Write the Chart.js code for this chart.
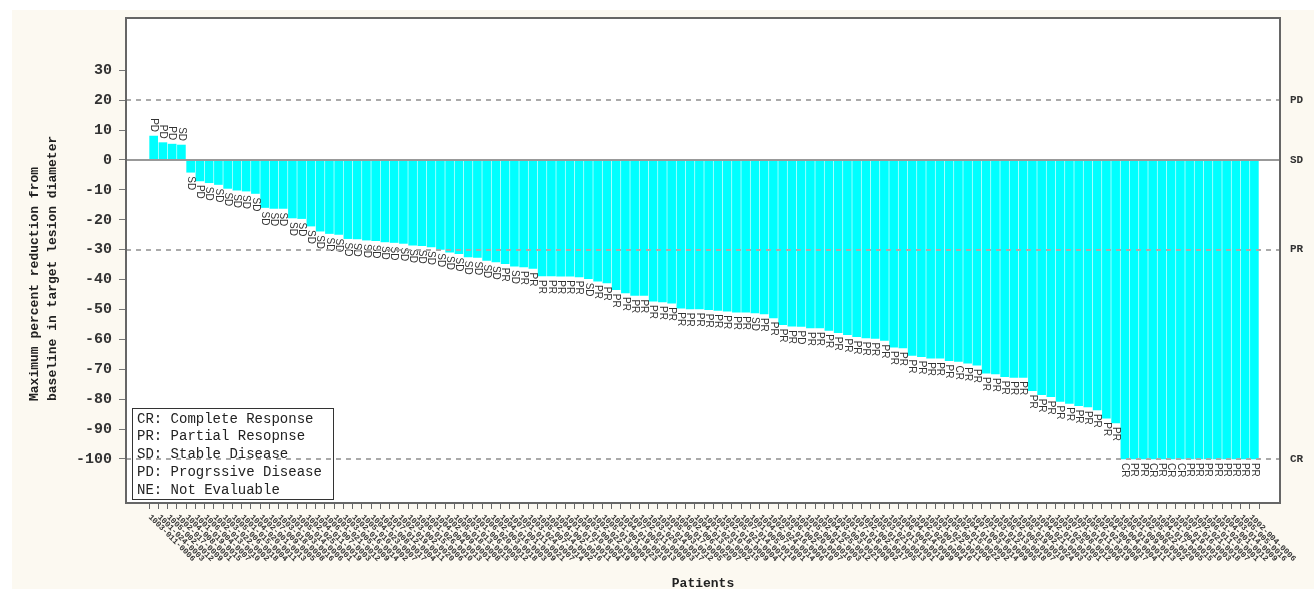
<!DOCTYPE html>
<html>
<head>
<meta charset="utf-8">
<script src="https://cdn.jsdelivr.net/npm/chart.js@4.4.1/dist/chart.umd.min.js"></script>
<style>
html,body{margin:0;padding:0;background:#fff;}
#wrap{width:1314px;height:589px;position:relative;}
canvas{display:block;}
</style>
</head>
<body>
<div id="wrap"><canvas id="c" width="1314" height="589"></canvas></div>
<script>
// ---------- DATA ----------
const patients = [
"1003-011-0006","1001-024-0003","1005-002-0012","1002-017-0009","1004-008-0001","1001-019-0015","1006-004-0007","1002-013-0010","1003-022-0002","1005-006-0018",
"1001-015-0004","1004-020-0011","1002-001-0013","1007-009-0005","1003-018-0008","1001-003-0016","1005-014-0006","1002-025-0001","1004-011-0019","1006-007-0003",
"1001-021-0012","1003-005-0009","1002-016-0014","1005-010-0002","1004-023-0007","1001-008-0017","1007-012-0004","1002-019-0011","1003-002-0020","1006-015-0006",
"1001-026-0010","1004-004-0013","1002-009-0001","1005-018-0008","1003-013-0015","1001-006-0005","1006-020-0012","1002-003-0018","1004-016-0003","1007-001-0009",
"1001-011-0021","1003-024-0007","1005-007-0014","1002-014-0002","1004-002-0016","1001-017-0011","1006-010-0004","1003-008-0019","1002-022-0006","1005-013-0001",
"1001-001-0023","1004-019-0010","1007-005-0013","1002-011-0008","1003-020-0003","1001-014-0017","1005-003-0012","1006-017-0005","1002-006-0020","1004-013-0007",
"1001-023-0002","1003-010-0015","1002-018-0009","1005-021-0004","1007-014-0011","1001-005-0018","1004-007-0001","1002-024-0014","1003-016-0006","1006-002-0010",
"1001-020-0007","1005-009-0016","1002-012-0003","1004-025-0012","1003-003-0021","1001-010-0008","1007-018-0002","1002-002-0017","1005-016-0005","1003-021-0013",
"1001-013-0001","1006-006-0019","1004-014-0009","1002-020-0004","1003-007-0016","1001-022-0011","1005-001-0006","1002-015-0022","1004-010-0002","1007-003-0014",
"1001-018-0009","1003-012-0005","1006-013-0018","1002-005-0007","1005-019-0010","1001-002-0024","1004-021-0003","1002-010-0015","1003-025-0001","1007-008-0012",
"1001-016-0006","1005-011-0019","1002-023-0008","1004-006-0017","1003-004-0004","1006-019-0011","1001-009-0013","1002-008-0002","1005-022-0020","1004-017-0005",
"1001-004-0015","1003-019-0010","1007-016-0003","1002-021-0018","1006-011-0007","1001-025-0001","1004-001-0012","1003-014-0009","1005-005-0016","1002-004-0006"
];

const changes = [
 8.0, 5.8, 5.3, 5.0, -4.1, -7.0, -7.6, -8.2, -9.5, -10.1,
 -10.4, -11.2, -15.9, -16.2, -16.2, -19.4, -19.6, -22.1, -23.8, -24.6,
 -24.9, -26.3, -26.4, -26.8, -27.0, -27.4, -27.6, -27.9, -28.5, -28.7,
 -29.1, -29.9, -30.8, -31.3, -32.4, -32.6, -33.6, -34.1, -34.7, -35.5,
 -35.8, -36.3, -38.8, -38.8, -38.9, -38.9, -39.1, -39.7, -40.5, -41.1,
 -43.4, -44.5, -45.3, -45.3, -47.2, -47.5, -47.9, -49.6, -49.8, -49.8,
 -50.1, -50.3, -50.6, -50.9, -50.9, -51.2, -51.5, -52.8, -55.1, -55.6,
 -55.7, -56.2, -56.2, -57.0, -57.8, -58.4, -59.1, -59.5, -59.7, -60.4,
 -62.6, -62.9, -65.4, -65.8, -66.3, -66.3, -67.1, -67.4, -68.0, -68.6,
 -71.3, -71.6, -72.5, -72.7, -72.7, -77.2, -78.5, -79.2, -80.8, -81.4,
 -82.2, -82.6, -83.6, -86.4, -88.0, -100, -100, -100, -100, -100,
 -100, -100, -100, -100, -100, -100, -100, -100, -100, -100
];

const responses = [
 "PD","PD","PD","SD","SD","PD","SD","SD","SD","SD",
 "SD","SD","SD","SD","SD","SD","SD","SD","SD","SD",
 "SD","SD","SD","SD","SD","SD","SD","SD","SD","SD",
 "SD","SD","SD","SD","SD","SD","SD","SD","PR","SD",
 "PR","PR","PR","PR","PR","PR","PR","SD","PR","PR",
 "PR","PR","PR","PR","PR","PR","PR","PR","PR","PR",
 "PR","PR","PR","PR","PR","SD","PR","PR","PR","PR",
 "PD","PR","PR","PR","PR","PR","PR","PR","PR","PR",
 "PR","PR","PR","PR","PR","PR","PR","CR","PR","PR",
 "PR","PR","PR","PR","PR","PR","PR","PR","PR","PR",
 "PR","PR","PR","PR","PR","CR","PR","PR","CR","PR",
 "CR","CR","PR","PR","PR","PR","PR","PR","PR","PR"
];

const yTickValues = [30, 20, 10, 0, -10, -20, -30, -40, -50, -60, -70, -80, -90, -100];
const refValues = [20, 0, -30, -100];
const refLabels = ["PD", "SD", "PR", "CR"];
const legendLines = ["CR: Complete Response", "PR: Partial Resopnse", "SD: Stable Disease", "PD: Progrssive Disease", "NE: Not Evaluable"];
const yTitleLines = ["Maximum percent reduction from", "baseline in target lesion diameter"];
const xTitle = "Patients";

// ---------- STYLE ----------
const MONO = "'Liberation Mono', 'Courier New', monospace";
const SANS = "'Liberation Sans', Arial, sans-serif";
const BAR_COLOR = "#00FFFF";

const decorPlugin = {
  id: 'decor',
  beforeDraw(chart) {
    const ctx = chart.ctx, a = chart.chartArea;
    ctx.save();
    ctx.fillStyle = '#ffffff';
    ctx.fillRect(0, 0, chart.width, chart.height);
    ctx.fillStyle = '#FCF9F1';
    ctx.fillRect(12, 10, chart.width - 12, chart.height - 10);
    ctx.fillStyle = '#ffffff';
    ctx.fillRect(a.left, a.top, a.right - a.left, a.bottom - a.top);
    ctx.restore();
  },
  afterDatasetsDraw(chart) {
    const ctx = chart.ctx, a = chart.chartArea;
    const xs = chart.scales.x, ys = chart.scales.y;
    ctx.save();
    // bar labels
    ctx.font = "10px " + SANS;
    ctx.fillStyle = '#333';
    ctx.textBaseline = 'middle';
    changes.forEach((v, i) => {
      const px = xs.getPixelForValue(i);
      const py = ys.getPixelForValue(v);
      ctx.save();
      ctx.translate(px, py);
      ctx.rotate(Math.PI / 2);
      if (v < 0) { ctx.textAlign = 'left'; ctx.fillText(responses[i], 4, 0); }
      else { ctx.textAlign = 'right'; ctx.fillText(responses[i], -4, 0); }
      ctx.restore();
    });
    // legend box
    const lx = 132, ly = 408, lw = 201, lh = 91;
    ctx.fillStyle = '#fff';
    ctx.fillRect(lx, ly, lw, lh);
    ctx.strokeStyle = '#333';
    ctx.lineWidth = 1;
    ctx.strokeRect(lx + 0.5, ly + 0.5, lw, lh);
    ctx.fillStyle = '#222';
    ctx.font = "14px " + MONO;
    ctx.textAlign = 'left';
    ctx.textBaseline = 'middle';
    legendLines.forEach((t, k) => ctx.fillText(t, lx + 5, ly + 11 + k * 17.7));
    // reference lines
    refValues.forEach((v, k) => {
      const py = Math.round(ys.getPixelForValue(v));
      ctx.beginPath();
      if (v === 0) { ctx.setLineDash([]); ctx.strokeStyle = '#999'; }
      else { ctx.setLineDash([5, 5]); ctx.strokeStyle = '#aaa'; }
      ctx.lineWidth = 2;
      ctx.moveTo(a.left, py);
      ctx.lineTo(a.right, py);
      ctx.stroke();
    });
    ctx.setLineDash([]);
    ctx.restore();
  },
  afterDraw(chart) {
    const ctx = chart.ctx, a = chart.chartArea;
    const xs = chart.scales.x, ys = chart.scales.y;
    ctx.save();
    // frame
    ctx.strokeStyle = '#666';
    ctx.lineWidth = 2;
    ctx.strokeRect(a.left, a.top, a.right - a.left, a.bottom - a.top);
    // right labels
    ctx.fillStyle = '#333';
    ctx.font = "bold 11px " + MONO;
    ctx.textAlign = 'left';
    ctx.textBaseline = 'middle';
    refValues.forEach((v, k) => ctx.fillText(refLabels[k], a.right + 10, ys.getPixelForValue(v)));
    // x tick labels
    ctx.font = "bold 8px " + MONO;
    ctx.fillStyle = '#333';
    patients.forEach((p, i) => {
      const px = xs.getPixelForValue(i);
      ctx.save();
      ctx.translate(px - 4, a.bottom + 13);
      ctx.rotate(Math.PI / 4);
      ctx.textAlign = 'left';
      ctx.textBaseline = 'middle';
      ctx.fillText(p, 0, 0);
      ctx.restore();
    });
    // axis titles
    ctx.fillStyle = '#222';
    ctx.font = "bold 13px " + MONO;
    ctx.textAlign = 'center';
    ctx.textBaseline = 'middle';
    ctx.fillText(xTitle, (a.left + a.right) / 2, 584);
    yTitleLines.forEach((t, k) => {
      ctx.save();
      ctx.translate(35 + k * 18, 401);
      ctx.rotate(-Math.PI / 2);
      ctx.textAlign = 'left';
      ctx.fillText(t, 0, 0);
      ctx.restore();
    });
    ctx.restore();
  }
};

new Chart(document.getElementById('c'), {
  type: 'bar',
  data: {
    datasets: [{
      data: changes.map((v, i) => ({ x: i, y: v })),
      backgroundColor: BAR_COLOR,
      borderWidth: 0,
      barThickness: 8
    }]
  },
  options: {
    responsive: false,
    animation: false,
    devicePixelRatio: 1,
    layout: { padding: { top: 18, right: 34, left: 0, bottom: 0 } },
    plugins: { legend: { display: false }, tooltip: { enabled: false } },
    scales: {
      x: {
        type: 'linear',
        min: -2.47,
        max: 121.25,
        afterBuildTicks: s => { s.ticks = patients.map((p, i) => ({ value: i })); },
        afterFit: s => { s.height = 86; },
        ticks: { display: false, autoSkip: false },
        grid: { drawOnChartArea: false, drawTicks: true, tickLength: 6, tickColor: '#666', color: '#666' },
        border: { display: false }
      },
      y: {
        type: 'linear',
        min: -114.75,
        max: 47.5,
        afterBuildTicks: s => { s.ticks = yTickValues.map(v => ({ value: v })); },
        afterFit: s => { s.width = 126; },
        ticks: { font: { family: MONO, size: 15, weight: 'bold' }, color: '#333', padding: 7, autoSkip: false },
        grid: { drawOnChartArea: false, drawTicks: true, tickLength: 7, tickColor: '#777', color: '#777' },
        border: { display: false }
      }
    }
  },
  plugins: [decorPlugin]
});
</script>
</body>
</html>
